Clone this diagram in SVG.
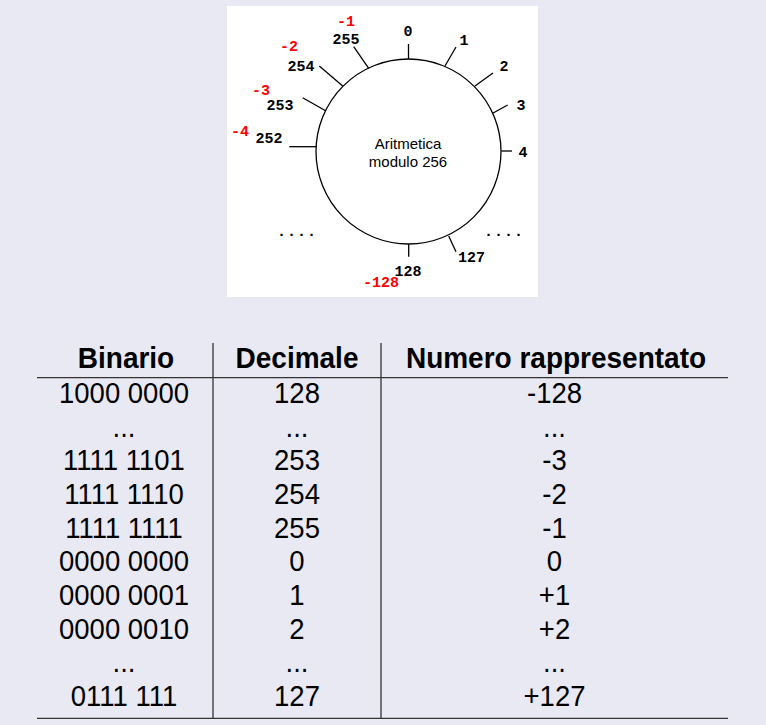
<svg xmlns="http://www.w3.org/2000/svg" width="766" height="725" viewBox="0 0 766 725">
<style>
.lbl{font-family:"Liberation Mono",monospace;font-weight:bold;font-size:15px;text-anchor:middle;fill:#000}
.neg{fill:#ff0000}
.ctr{font-family:"Liberation Sans",Arial,sans-serif;font-size:15px;text-anchor:middle;fill:#000}
.tick{stroke:#000;stroke-width:1.3;fill:none}
.th{font-family:"Liberation Sans",Arial,sans-serif;font-weight:bold;font-size:28px;text-anchor:middle;fill:#000}
.td{font-family:"Liberation Sans",Arial,sans-serif;font-size:27.5px;text-anchor:middle;fill:#000}
.rule{stroke:#333;stroke-width:1.3}
</style>
<rect x="0" y="0" width="766" height="725" fill="#e9e9f3"/>
<rect x="227" y="6" width="311" height="291" fill="#ffffff"/>

<g id="circle-node">
<circle cx="408.5" cy="151.5" r="92.5" fill="#ffffff" stroke="#000" stroke-width="1.3"/>
<text class="ctr" x="408" y="149">Aritmetica</text>
<text class="ctr" x="408" y="167">modulo 256</text>
</g>

<g id="connectors">
<line class="tick" x1="408.5" y1="44" x2="408.5" y2="59"/>
<line class="tick" x1="456" y1="47" x2="445" y2="66"/>
<line class="tick" x1="493" y1="73" x2="475" y2="86"/>
<line class="tick" x1="507.7" y1="105" x2="492.7" y2="113.3"/>
<line class="tick" x1="501.3" y1="151" x2="512" y2="151"/>
<line class="tick" x1="368.7" y1="68.3" x2="353.7" y2="46.7"/>
<line class="tick" x1="342.7" y1="86" x2="319.3" y2="66"/>
<line class="tick" x1="326" y1="111" x2="302.7" y2="97.7"/>
<line class="tick" x1="316" y1="146.7" x2="289.3" y2="146.7"/>
<line class="tick" x1="408.7" y1="244.3" x2="408.7" y2="256.7"/>
<line class="tick" x1="448.7" y1="236" x2="456" y2="251.7"/>
</g>

<g id="label-0"><text class="lbl" x="408" y="36">0</text></g>
<g id="label-1"><text class="lbl" x="464" y="45">1</text></g>
<g id="label-2"><text class="lbl" x="504" y="70.5">2</text></g>
<g id="label-3"><text class="lbl" x="521" y="109.5">3</text></g>
<g id="label-4"><text class="lbl" x="523" y="157">4</text></g>
<g id="label-255"><text class="lbl" x="346" y="44">255</text><text class="lbl neg" x="346" y="26">-1</text></g>
<g id="label-254"><text class="lbl" x="301" y="70.5">254</text><text class="lbl neg" x="289" y="51">-2</text></g>
<g id="label-253"><text class="lbl" x="280" y="109.5">253</text><text class="lbl neg" x="261" y="94.5">-3</text></g>
<g id="label-252"><text class="lbl" x="269" y="142.5">252</text><text class="lbl neg" x="240" y="136">-4</text></g>
<g id="label-128"><text class="lbl" x="408" y="276">128</text><text class="lbl neg" x="381" y="287">-128</text></g>
<g id="label-127"><text class="lbl" x="471.5" y="262">127</text></g>
<g id="dots-left"><text class="lbl" x="297" y="236" letter-spacing="1">....</text></g>
<g id="dots-right"><text class="lbl" x="504" y="236" letter-spacing="1">....</text></g>

<g id="table">
<line class="rule" x1="37" y1="377.7" x2="728" y2="377.7"/>
<line class="rule" x1="37" y1="718.3" x2="728" y2="718.3"/>
<line class="rule" x1="213" y1="343" x2="213" y2="718"/>
<line class="rule" x1="381" y1="343" x2="381" y2="718"/>

<text class="th" transform="translate(126 368) scale(1 1.07)">Binario</text>
<text class="th" transform="translate(297 368) scale(1 1.07)">Decimale</text>
<text class="th" transform="translate(556 368) scale(1 1.07)">Numero rappresentato</text>

<g id="col-bin">
<text class="td" transform="translate(124 403) scale(1 1.1)">1000 0000</text>
<text class="td" transform="translate(124 436.7) scale(1 1.1)">...</text>
<text class="td" transform="translate(124 470.3) scale(1 1.1)">1111 1101</text>
<text class="td" transform="translate(124 504) scale(1 1.1)">1111 1110</text>
<text class="td" transform="translate(124 537.7) scale(1 1.1)">1111 1111</text>
<text class="td" transform="translate(124 571.3) scale(1 1.1)">0000 0000</text>
<text class="td" transform="translate(124 605) scale(1 1.1)">0000 0001</text>
<text class="td" transform="translate(124 638.7) scale(1 1.1)">0000 0010</text>
<text class="td" transform="translate(124 672.3) scale(1 1.1)">...</text>
<text class="td" transform="translate(124 706) scale(1 1.1)">0111 111</text>
</g>
<g id="col-dec">
<text class="td" transform="translate(297 403) scale(1 1.1)">128</text>
<text class="td" transform="translate(297 436.7) scale(1 1.1)">...</text>
<text class="td" transform="translate(297 470.3) scale(1 1.1)">253</text>
<text class="td" transform="translate(297 504) scale(1 1.1)">254</text>
<text class="td" transform="translate(297 537.7) scale(1 1.1)">255</text>
<text class="td" transform="translate(297 571.3) scale(1 1.1)">0</text>
<text class="td" transform="translate(297 605) scale(1 1.1)">1</text>
<text class="td" transform="translate(297 638.7) scale(1 1.1)">2</text>
<text class="td" transform="translate(297 672.3) scale(1 1.1)">...</text>
<text class="td" transform="translate(297 706) scale(1 1.1)">127</text>
</g>
<g id="col-num">
<text class="td" transform="translate(554.5 403) scale(1 1.1)">-128</text>
<text class="td" transform="translate(554.5 436.7) scale(1 1.1)">...</text>
<text class="td" transform="translate(554.5 470.3) scale(1 1.1)">-3</text>
<text class="td" transform="translate(554.5 504) scale(1 1.1)">-2</text>
<text class="td" transform="translate(554.5 537.7) scale(1 1.1)">-1</text>
<text class="td" transform="translate(554.5 571.3) scale(1 1.1)">0</text>
<text class="td" transform="translate(554.5 605) scale(1 1.1)">+1</text>
<text class="td" transform="translate(554.5 638.7) scale(1 1.1)">+2</text>
<text class="td" transform="translate(554.5 672.3) scale(1 1.1)">...</text>
<text class="td" transform="translate(554.5 706) scale(1 1.1)">+127</text>
</g>
</g>
</svg>
